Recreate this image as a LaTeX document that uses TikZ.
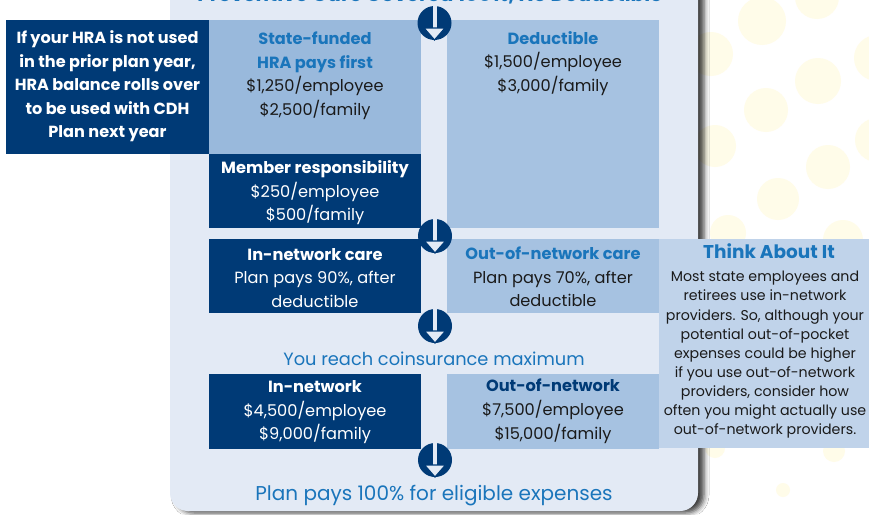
\documentclass[tikz,border=0pt]{standalone}
\usepackage{fontspec}
\setmainfont{Poppins}
\usetikzlibrary{shadows.blur}
\definecolor{navy}{HTML}{003A76}
\definecolor{lightA}{HTML}{99B9DC}
\definecolor{lightB}{HTML}{A6C2E1}
\definecolor{panel}{HTML}{E3EAF5}
\definecolor{thinkc}{HTML}{C0D3EA}
\definecolor{bluetext}{HTML}{1A75BB}
\definecolor{dotc}{HTML}{FFFCE9}
\definecolor{bodytext}{HTML}{1A1A1A}
\newcommand\flowarrow[2]{%
  \node[arrowdisc] (#1) at (#2) {};
  \fill[panel] ([xshift=-2pt]#1.north) rectangle ([xshift=2pt,yshift=-23pt]#1.north);
  \filldraw[fill=panel, draw=navy, line width=1.2pt, line join=miter]
    ([xshift=-10.5pt,yshift=-5pt]#1.center) -- ([xshift=10.5pt,yshift=-5pt]#1.center)
    -- ([yshift=-17pt]#1.center) -- cycle;
}
\begin{document}
\begin{tikzpicture}[x=1pt,y=-1pt,
  box/.style={rectangle, anchor=north west, inner sep=0pt, outer sep=0pt},
  arrowdisc/.style={circle, fill=navy, minimum size=34pt, inner sep=0pt},
  txt/.style={anchor=north, inner sep=0pt, align=center},
  bodyfont/.style={font=\fontsize{16.2}{23.6}\selectfont},
  boldfont/.style={font=\fontsize{16.1}{23.6}\selectfont\bfseries},
  thinkfont/.style={font=\fontsize{14.2}{19.05}\selectfont}
]
\useasboundingbox (0,0) rectangle (869,514);
\clip (0,0) rectangle (869,514);
\fill[white] (0,0) rectangle (869,514);
% background dots
\foreach \x/\y/\r in {762/21/24, 817/-3/22, 711/54/22, 818/81/23, 766/110/22,
  877/58/23, 715/146/21, 828/167/22, 778/199/21, 877/140/22, 728/233/18,
  843/240/20, 715/448/10, 834/451/11, 783/490/7}
  \fill[dotc] (\x,\y) circle (\r pt);
% panel
\fill[panel, rounded corners=18pt,
  blur shadow={shadow xshift=6pt, shadow yshift=-2pt, shadow blur radius=5pt, shadow opacity=75}]
  (170,-40) rectangle (698,511);
% title (mostly cut off, as in the reference)
\node[anchor=base, inner sep=0pt, text=bluetext,
  font=\fontsize{20}{24}\selectfont\bfseries] (title) at (430,1.6)
  {Preventive Care Covered 100\%, No Deductible};
% boxes
\node[box, fill=navy, minimum width=203pt, minimum height=134pt] (hra) at (6,20) {};
\node[box, fill=lightA, minimum width=212pt, minimum height=134pt] (state) at (209,20) {};
\node[box, fill=navy, minimum width=212pt, minimum height=74pt] (member) at (209,154) {};
\node[box, fill=lightB, minimum width=212pt, minimum height=208pt] (deduct) at (447,20) {};
\node[box, fill=navy, minimum width=212pt, minimum height=74pt] (incare) at (209,239) {};
\node[box, fill=lightB, minimum width=212pt, minimum height=74pt] (outcare) at (447,239) {};
\node[box, fill=thinkc, minimum width=210pt, minimum height=209pt] (think) at (659,239) {};
\node[box, fill=navy, minimum width=212pt, minimum height=75pt] (inmax) at (209,374) {};
\node[box, fill=lightB, minimum width=212pt, minimum height=75pt] (outmax) at (447,374) {};
% texts (first baseline = top + 0.7 * line pitch)
\node[txt, boldfont, text=white] (hraT) at (107.5,26.8)
  {\strut If your HRA is not used\\in the prior plan year,\\HRA balance rolls over\\to be used with CDH\\Plan next year};
\node[txt, bodyfont, text=bodytext] (stateT) at (315,27.8)
  {\strut\textbf{\textcolor{bluetext}{State-funded}}\\\textbf{\textcolor{bluetext}{HRA pays first}}\\\$1,250/employee\\\$2,500/family};
\node[txt, bodyfont, text=white] (memberT) at (315,156.8)
  {\strut\textbf{Member responsibility}\\\$250/employee\\\$500/family};
\node[txt, bodyfont, text=bodytext] (deductT) at (553,27.5)
  {\strut\textbf{\textcolor{bluetext}{Deductible}}\\\$1,500/employee\\\$3,000/family};
\node[txt, bodyfont, text=white] (incareT) at (315,243.5)
  {\strut\textbf{In-network care}\\Plan pays 90\%, after\\deductible};
\node[txt, bodyfont, text=bodytext] (outcareT) at (553,242.8)
  {\strut\textbf{\textcolor{bluetext}{Out-of-network care}}\\Plan pays 70\%, after\\deductible};
\node[txt, bodyfont, text=white] (inmaxT) at (315,375.8)
  {\strut\textbf{In-network}\\\$4,500/employee\\\$9,000/family};
\node[txt, bodyfont, text=bodytext] (outmaxT) at (553,375.2)
  {\strut\textbf{\textcolor{navy}{Out-of-network}}\\\$7,500/employee\\\$15,000/family};
\node[anchor=base, inner sep=0pt, text=bluetext, font=\fontsize{18.5}{22}\selectfont\bfseries]
  (thinkH) at (769,258.3) {Think About It};
\node[txt, thinkfont, text=bodytext] (thinkT) at (765,268.4)
  {\strut Most state employees and\\retirees use in-network\\providers. So, although your\\potential out-of-pocket\\expenses could be higher\\if you use out-of-network\\providers, consider how\\often you might actually use\\out-of-network providers.};
\node[anchor=base, inner sep=0pt, text=bluetext, font=\fontsize{17.8}{22}\selectfont]
  (coins) at (434,365) {You reach coinsurance maximum};
\node[anchor=base, inner sep=0pt, text=bluetext, font=\fontsize{20}{24}\selectfont]
  (full) at (434,500) {Plan pays 100\% for eligible expenses};
% flow arrows
\flowarrow{a1}{434.5,23}
\flowarrow{a2}{435,236}
\flowarrow{a3}{435,326}
\flowarrow{a4}{435,460}
\end{tikzpicture}
\end{document}
